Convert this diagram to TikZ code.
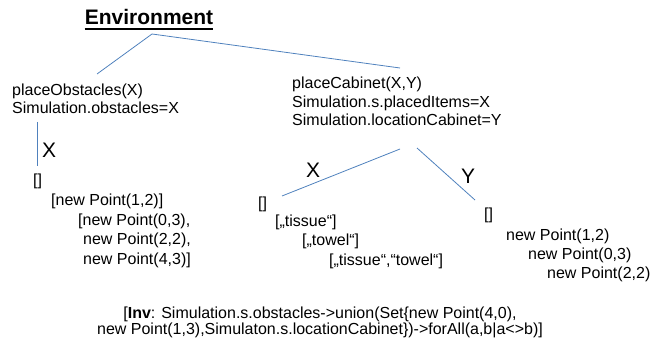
\documentclass[tikz,border=0pt]{standalone}
\usepackage{fontspec}
\setmainfont{Liberation Sans}
\begin{document}
\begin{tikzpicture}[x=1pt,y=-1pt,
  txt/.style={inner sep=0pt,anchor=base west,font=\fontsize{16}{18}\selectfont},
  lbl/.style={inner sep=0pt,anchor=base west,font=\fontsize{21}{24}\selectfont},
  edge/.style={draw={rgb,255:red,79;green,129;blue,189},line width=0.8pt}]
\useasboundingbox (0,0) rectangle (651,344);

% root
\node[inner sep=0pt,anchor=base,font=\fontsize{21}{24}\selectfont\bfseries] (env) at (149,25) {Environment};
\draw[line width=1.6pt] ([yshift=-4pt]env.base west) -- ([yshift=-4pt]env.base east);

% first branch: obstacles
\node[txt] (obs1) at (12,96) {placeObstacles(X)};
\node[txt] (obs2) at (12,114) {Simulation.obstacles=X};
\node[lbl] (lx1) at (42,158) {X};
\node[txt] (oa) at (33,186) {[]};
\node[txt] (ob) at (51,205.5) {[new Point(1,2)]};
\node[txt] (oc) at (78,225.5) {[new Point(0,3),};
\node[txt] (od) at (83,245) {new Point(2,2),};
\node[txt] (oe) at (83,264.5) {new Point(4,3)]};

% second branch: cabinet
\node[txt] (cab1) at (292,89) {placeCabinet(X,Y)};
\node[txt] (cab2) at (292,107.5) {Simulation.s.placedItems=X};
\node[txt] (cab3) at (292,126) {Simulation.locationCabinet=Y};
\node[lbl] (lx2) at (306,178) {X};
\node[lbl] (ly) at (461,184) {Y};

\node[txt] (ia) at (258,209) {[]};
\node[txt] (ib) at (275,227) {[„tissue“]};
\node[txt] (ic) at (302,246) {[„towel“]};
\node[txt] (id) at (329,265.5) {[„tissue“,“towel“]};

\node[txt] (pa) at (484,220) {[]};
\node[txt] (pb) at (506,240.5) {new Point(1,2)};
\node[txt] (pc) at (528,259.5) {new Point(0,3)};
\node[txt] (pd) at (547,278.5) {new Point(2,2)};

% invariant
\node[txt,anchor=base] (inv1) at (320,319) {[\textbf{Inv}: Simulation.s.obstacles->union(Set\{new Point(4,0),};
\node[txt,anchor=base] (inv2) at (320,335) {new Point(1,3),Simulaton.s.locationCabinet\})->forAll(a,b|a<>b)]};

% connector end points
\coordinate (root) at (152,34);
\coordinate (obsTop) at (97,74);
\coordinate (cabTop) at (400,68);
\coordinate (obsLow) at (37,122);
\coordinate (obsEnd) at (37,166);
\coordinate (cabLowL) at (400,149);
\coordinate (cabLowR) at (417,148);
\coordinate (itemsEnd) at (282,196);
\coordinate (locEnd) at (475,200);

\draw[edge] (root) -- (obsTop);
\draw[edge] (root) -- (cabTop);
\draw[edge] (obsLow) -- (obsEnd);
\draw[edge] (cabLowL) -- (itemsEnd);
\draw[edge] (cabLowR) -- (locEnd);
\end{tikzpicture}
\end{document}
